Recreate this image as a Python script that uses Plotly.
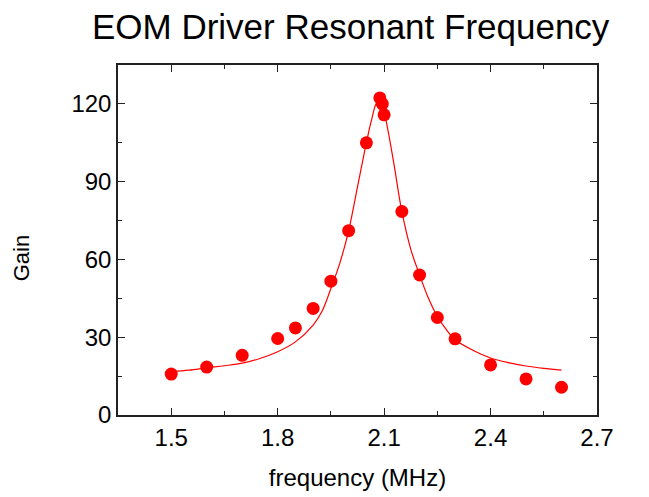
import plotly.graph_objects as go

# Measured data points
freq_pts = [1.5, 1.6, 1.7, 1.8, 1.85, 1.9, 1.95, 2.0, 2.05, 2.088, 2.095, 2.1, 2.15, 2.2, 2.25, 2.3, 2.4, 2.5, 2.6]
gain_pts = [15.8, 18.5, 23.0, 29.5, 33.6, 41.1, 51.6, 71.1, 105.0, 122.3, 120.0, 115.8, 78.5, 54.0, 37.6, 29.4, 19.3, 13.9, 10.7]

# Fitted curve
freq_fit = [1.5, 1.55, 1.6, 1.65, 1.7, 1.75, 1.8, 1.85, 1.9, 1.925, 1.95, 1.975, 2.0, 2.025, 2.05,
            2.065, 2.08, 2.09, 2.1, 2.125, 2.15, 2.175, 2.2, 2.225, 2.25, 2.275, 2.3, 2.35, 2.4, 2.45,
            2.5, 2.55, 2.6]
gain_fit = [16.7, 17.3, 18.2, 19.0, 20.0, 21.8, 24.4, 28.2, 34.7, 40.0, 48.8, 58.5, 71.0, 88.0, 105.0,
            114.0, 120.5, 120.5, 116.8, 99.0, 78.5, 64.0, 54.0, 45.0, 38.0, 33.0, 29.0, 25.0, 22.0, 20.2,
            18.9, 18.0, 17.3]

x_ticks = [1.5, 1.8, 2.1, 2.4, 2.7]
y_ticks = [0, 30, 60, 90, 120]

FONT = "Liberation Sans, Arial, sans-serif"

fig = go.Figure()
fig.add_trace(go.Scatter(x=freq_fit, y=gain_fit, mode="lines",
                         line=dict(color="#ff0000", width=1.2, shape="spline"),
                         showlegend=False, hoverinfo="skip"))
fig.add_trace(go.Scatter(x=freq_pts, y=gain_pts, mode="markers",
                         marker=dict(color="#ff0000", size=13, line=dict(width=0)),
                         showlegend=False))

axis_common = dict(
    showgrid=False, zeroline=False, showline=True, linecolor="#222222", linewidth=1.5,
    mirror="allticks", ticks="inside", ticklen=7, tickwidth=1.3, tickcolor="#222222",
    tickfont=dict(family=FONT, size=24, color="#000000"),
)

fig.update_layout(
    width=649, height=497,
    margin=dict(l=110, r=60, t=57, b=90),
    paper_bgcolor="white", plot_bgcolor="white",
    font=dict(family=FONT, color="#000000"),
    title=dict(text="EOM Driver Resonant Frequency", x=0.528, xanchor="center",
               y=1 - 6 / 497, yanchor="top", yref="container",
               font=dict(family=FONT, size=35, color="#000000")),
    xaxis=dict(range=[1.35, 2.7], tickvals=x_ticks, ticktext=[f"{v:.1f}" for v in x_ticks],
               minor=dict(dtick=0.15, tick0=1.35, ticks="inside", ticklen=4, tickcolor="#222222", tickwidth=1),
               title=dict(text="frequency (MHz)", font=dict(family=FONT, size=24), standoff=20),
               **axis_common),
    yaxis=dict(range=[0, 135], tickvals=y_ticks,
               minor=dict(dtick=15, tick0=0, ticks="inside", ticklen=4, tickcolor="#222222", tickwidth=1),
               **axis_common),
    annotations=[dict(text="Gain", xref="paper", yref="paper", x=-0.2015, y=0.449,
                      xanchor="center", yanchor="middle", textangle=-90, showarrow=False,
                      font=dict(family=FONT, size=22, color="#000000"))],
)

fig.write_html("out.html")
